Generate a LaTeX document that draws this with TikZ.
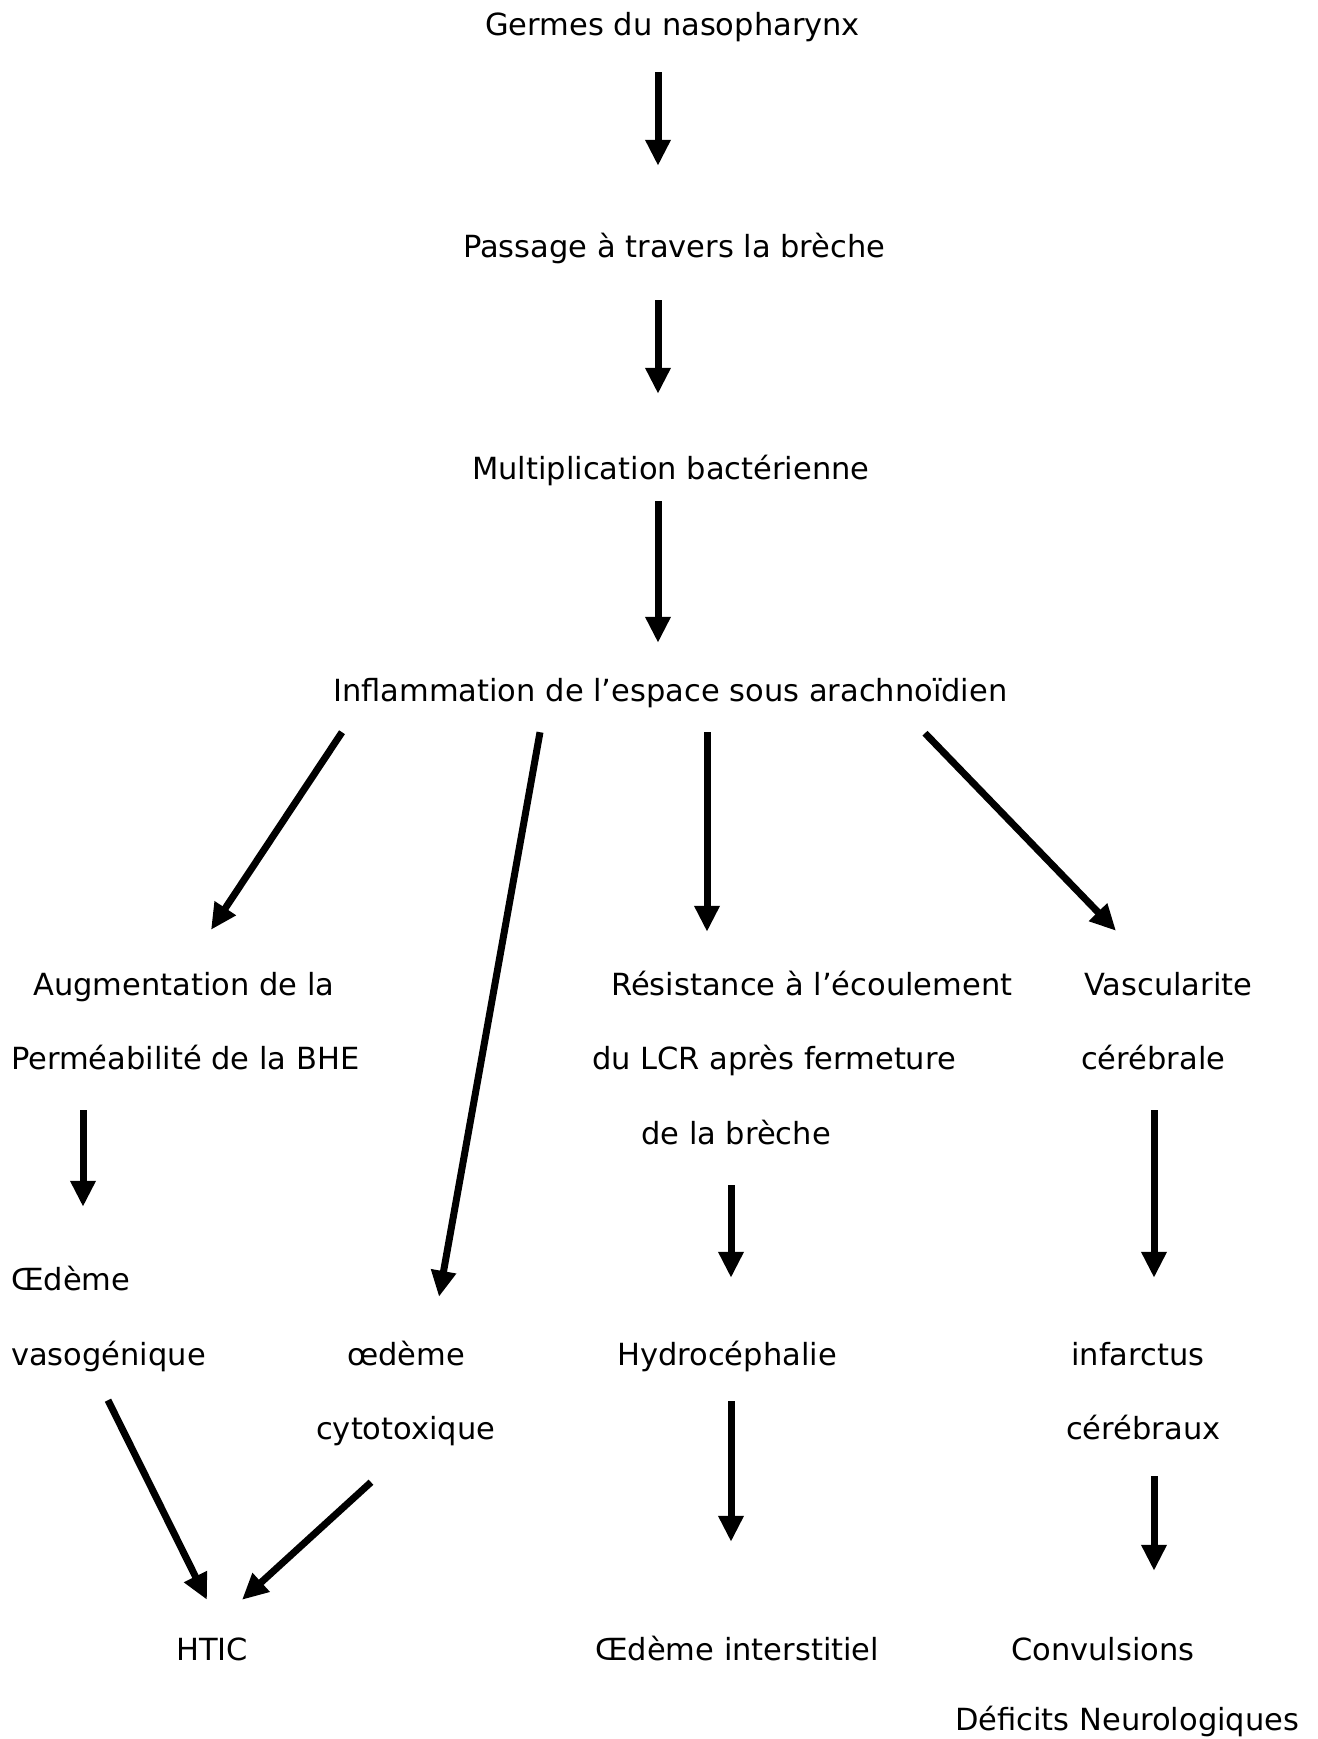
\documentclass[tikz,border=0pt]{standalone}
\usepackage{fontspec}
\setmainfont{DejaVu Sans}
\usetikzlibrary{arrows.meta}

\begin{document}
\begin{tikzpicture}[x=1pt,y=-1pt,
    txt/.style={anchor=base west, inner sep=0pt, text height=22pt, text depth=7pt,
        font=\fontsize{30.5}{36}\selectfont},
    flow/.style={line width=7pt, -{Triangle[length=26pt,width=24pt]}}]
\useasboundingbox (0,0) rectangle (1317,1739);

% main chain
\node[txt] (germes) at (485,36) {Germes du nasopharynx};
\node[txt] (passage) at (463,257) {Passage à travers la brèche};
\node[txt] (multi) at (472,479) {Multiplication bactérienne};
\node[txt] (inflam) at (333,701) {Inflammation de l’espace sous arachnoïdien};

% left branch
\node[txt] (augm) at (33,995) {Augmentation de la};
\node[txt] (permea) at (11,1069) {Perméabilité de la BHE};
\node[txt] (oedA) at (11,1290) {Œdème};
\node[txt] (vaso) at (11,1365) {vasogénique};
\node[txt] (oedB) at (347,1365) {œdème};
\node[txt] (cyto) at (316,1439) {cytotoxique};
\node[txt] (htic) at (176,1660) {HTIC};

% middle branch
\node[txt] (resist) at (611,995) {Résistance à l’écoulement};
\node[txt] (lcr) at (592,1069) {du LCR après fermeture};
\node[txt] (breche) at (641,1144) {de la brèche};
\node[txt] (hydro) at (617,1365) {Hydrocéphalie};
\node[txt] (interst) at (595,1660) {Œdème interstitiel};

% right branch
\node[txt] (vascu) at (1084,995) {Vascularite};
\node[txt] (cereb) at (1081,1069) {cérébrale};
\node[txt] (infarc) at (1071,1365) {infarctus};
\node[txt] (cerebx) at (1066,1439) {cérébraux};
\node[txt] (convul) at (1011,1660) {Convulsions};
\node[txt] (deficit) at (955,1730) {Déficits Neurologiques};

% arrows
\draw[flow] ([xshift=173pt,yshift=-29pt]germes.south west) -- ([xshift=195pt,yshift=69pt]passage.north west);
\draw[flow] ([xshift=195pt,yshift=-36pt]passage.south west) -- ([xshift=186pt,yshift=63pt]multi.north west);
\draw[flow] ([xshift=186pt,yshift=-15pt]multi.south west) -- ([xshift=325pt,yshift=36pt]inflam.north west);

\draw[flow] ([xshift=9pt,yshift=-24pt]inflam.south west) -- ([xshift=178pt,yshift=43pt]augm.north west);
\draw[flow] ([xshift=207pt,yshift=-24pt]inflam.south west) -- ([xshift=92pt,yshift=46pt]oedB.north west);
\draw[flow] ([xshift=374pt,yshift=-24pt]inflam.south west) -- ([xshift=96pt,yshift=41pt]resist.north west);
\draw[flow] ([xshift=592pt,yshift=-25pt]inflam.south west) -- ([xshift=32pt,yshift=42pt]vascu.north west);

\draw[flow] ([xshift=72pt,yshift=-34pt]permea.south west) -- ([xshift=72pt,yshift=61pt]oedA.north west);
\draw[flow] ([xshift=97pt,yshift=-28pt]vaso.south west) -- ([xshift=31pt,yshift=38pt]htic.north west);
\draw[flow] ([xshift=55pt,yshift=-36pt]cyto.south west) -- ([xshift=66pt,yshift=38pt]htic.north west);

\draw[flow] ([xshift=90pt,yshift=-34pt]breche.south west) -- ([xshift=114pt,yshift=65pt]hydro.north west);
\draw[flow] ([xshift=114pt,yshift=-29pt]hydro.south west) -- ([xshift=136pt,yshift=96pt]interst.north west);

\draw[flow] ([xshift=73pt,yshift=-34pt]cereb.south west) -- ([xshift=83pt,yshift=65pt]infarc.north west);
\draw[flow] ([xshift=88pt,yshift=-30pt]cerebx.south west) -- ([xshift=143pt,yshift=67pt]convul.north west);
\end{tikzpicture}
\end{document}
